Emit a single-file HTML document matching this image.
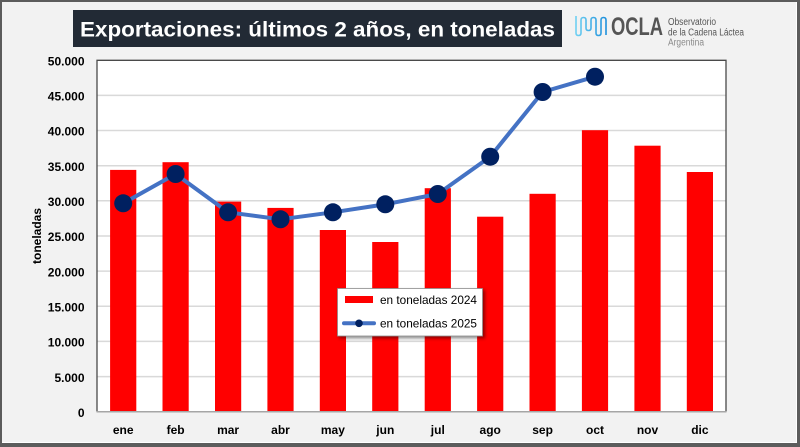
<!DOCTYPE html>
<html><head><meta charset="utf-8"><style>
html,body{margin:0;padding:0;background:#f2f2f2;}
svg{display:block;}
text{font-family:"Liberation Sans",sans-serif;}
</style></head><body>
<svg width="800" height="447" viewBox="0 0 800 447" xmlns="http://www.w3.org/2000/svg">
<defs>
<linearGradient id="wg" x1="0" x2="1" y1="0" y2="0"><stop offset="0" stop-color="#6fd0f2"/><stop offset="1" stop-color="#1e90dc"/></linearGradient>
<filter id="sh" x="-10%" y="-10%" width="130%" height="140%"><feDropShadow dx="2" dy="2" stdDeviation="1.5" flood-color="#000" flood-opacity="0.45"/></filter>
</defs>
<rect x="0" y="0" width="800" height="447" fill="#5c5c5c"/>
<rect x="2" y="2" width="795" height="441" fill="#ffffff"/>
<rect x="2" y="2" width="794" height="440" fill="#f2f2f2"/>

<!-- Title -->
<rect x="73" y="10" width="489" height="37" fill="#222a35"/>
<text x="80" y="36.5" font-size="21" font-weight="bold" fill="#ffffff" textLength="475" lengthAdjust="spacingAndGlyphs">Exportaciones: últimos 2 años, en toneladas</text>

<!-- Logo -->
<path d="M576,16 L576,33 Q576,35.5 578.5,35.5 Q581,35.5 581,33 L581,20 Q581,17.5 583.5,17.5 Q586,17.5 586,20 L586,28 Q586,30.5 588.5,30.5 Q591,30.5 591,28 L591,20 Q591,17.5 593.5,17.5 Q596,17.5 596,20 L596,33 Q596,35.5 598.5,35.5 Q601,35.5 601,33 L601,20 Q601,17.5 603.5,17.5 Q606,17.5 606,20 L606,35" fill="none" stroke="url(#wg)" stroke-width="1.6"/>
<text x="611" y="35" font-size="25" font-weight="bold" fill="#555555" textLength="52" lengthAdjust="spacingAndGlyphs">OCLA</text>
<text x="668" y="25" font-size="10" fill="#555555" textLength="48" lengthAdjust="spacingAndGlyphs">Observatorio</text>
<text x="668" y="35.5" font-size="10" fill="#555555" textLength="76" lengthAdjust="spacingAndGlyphs">de la Cadena Láctea</text>
<text x="668" y="45.5" font-size="10" fill="#8a8a8a" textLength="36" lengthAdjust="spacingAndGlyphs">Argentina</text>

<!-- Plot area -->
<rect x="97" y="60.3" width="629" height="351.4" fill="#ffffff"/>
<g stroke="#d9d9d9" stroke-width="1.5">
<line x1="97" x2="726" y1="95.4" y2="95.4"/>
<line x1="97" x2="726" y1="130.5" y2="130.5"/>
<line x1="97" x2="726" y1="165.7" y2="165.7"/>
<line x1="97" x2="726" y1="200.8" y2="200.8"/>
<line x1="97" x2="726" y1="236.0" y2="236.0"/>
<line x1="97" x2="726" y1="271.1" y2="271.1"/>
<line x1="97" x2="726" y1="306.3" y2="306.3"/>
<line x1="97" x2="726" y1="341.4" y2="341.4"/>
<line x1="97" x2="726" y1="376.6" y2="376.6"/>
</g>

<!-- Bars 2024 -->
<g fill="#ff0000">
<rect x="110.1" y="169.9" width="26.2" height="241.8"/>
<rect x="162.5" y="162.2" width="26.2" height="249.5"/>
<rect x="215.0" y="201.6" width="26.2" height="210.1"/>
<rect x="267.4" y="207.9" width="26.2" height="203.8"/>
<rect x="319.8" y="230.0" width="26.2" height="181.7"/>
<rect x="372.2" y="242.0" width="26.2" height="169.7"/>
<rect x="424.7" y="188.2" width="26.2" height="223.5"/>
<rect x="477.1" y="216.7" width="26.2" height="195.0"/>
<rect x="529.5" y="193.8" width="26.2" height="217.9"/>
<rect x="581.9" y="130.2" width="26.2" height="281.5"/>
<rect x="634.4" y="145.7" width="26.2" height="266.0"/>
<rect x="686.8" y="172.0" width="26.2" height="239.7"/>
</g>

<!-- Plot border -->
<path d="M97,411.7 L97,60.3 L726,60.3 L726,411.7" fill="none" stroke="#4a4a4a" stroke-width="1.3"/>
<line x1="96.5" x2="726.5" y1="411.7" y2="411.7" stroke="#a6a6a6" stroke-width="1.5"/>

<!-- Line 2025 -->
<polyline points="123.2,203.3 175.6,174 228.1,212.3 280.5,219.3 332.9,212.3 385.3,204.3 437.8,194 490.2,156.7 542.6,92 595.0,76.7" fill="none" stroke="#4472c4" stroke-width="4" stroke-linejoin="round"/>
<g fill="#002060">
<circle cx="123.2" cy="203.3" r="9"/>
<circle cx="175.6" cy="174" r="9"/>
<circle cx="228.1" cy="212.3" r="9"/>
<circle cx="280.5" cy="219.3" r="9"/>
<circle cx="332.9" cy="212.3" r="9"/>
<circle cx="385.3" cy="204.3" r="9"/>
<circle cx="437.8" cy="194" r="9"/>
<circle cx="490.2" cy="156.7" r="9"/>
<circle cx="542.6" cy="92" r="9"/>
<circle cx="595.0" cy="76.7" r="9"/>
</g>

<!-- Y axis labels -->
<g font-size="12" font-weight="bold" fill="#000" text-anchor="end">
<text x="84.5" y="65.5">50.000</text>
<text x="84.5" y="100.6">45.000</text>
<text x="84.5" y="135.7">40.000</text>
<text x="84.5" y="170.9">35.000</text>
<text x="84.5" y="206.0">30.000</text>
<text x="84.5" y="241.2">25.000</text>
<text x="84.5" y="276.3">20.000</text>
<text x="84.5" y="311.5">15.000</text>
<text x="84.5" y="346.6">10.000</text>
<text x="84.5" y="381.8">5.000</text>
<text x="84.5" y="416.9">0</text>
</g>
<text x="0" y="0" font-size="12" font-weight="bold" fill="#000" text-anchor="middle" transform="translate(41,236) rotate(-90)">toneladas</text>

<!-- X labels -->
<g font-size="12" font-weight="bold" fill="#000" text-anchor="middle">
<text x="123.2" y="434">ene</text>
<text x="175.6" y="434">feb</text>
<text x="228.1" y="434">mar</text>
<text x="280.5" y="434">abr</text>
<text x="332.9" y="434">may</text>
<text x="385.3" y="434">jun</text>
<text x="437.8" y="434">jul</text>
<text x="490.2" y="434">ago</text>
<text x="542.6" y="434">sep</text>
<text x="595.0" y="434">oct</text>
<text x="647.5" y="434">nov</text>
<text x="699.9" y="434">dic</text>
</g>

<!-- Legend -->
<rect x="337.5" y="288.5" width="145" height="47.5" fill="#ffffff" stroke="#8c8c8c" stroke-width="0.8" filter="url(#sh)"/>
<rect x="345" y="296" width="28" height="7" fill="#ff0000"/>
<text x="380" y="304" font-size="12" fill="#000" textLength="97" lengthAdjust="spacingAndGlyphs">en toneladas 2024</text>
<line x1="344" x2="374" y1="323.3" y2="323.3" stroke="#4472c4" stroke-width="4" stroke-linecap="round"/>
<circle cx="359" cy="323.3" r="3.8" fill="#002060"/>
<text x="380" y="327.5" font-size="12" fill="#000" textLength="97" lengthAdjust="spacingAndGlyphs">en toneladas 2025</text>
</svg>
</body></html>
